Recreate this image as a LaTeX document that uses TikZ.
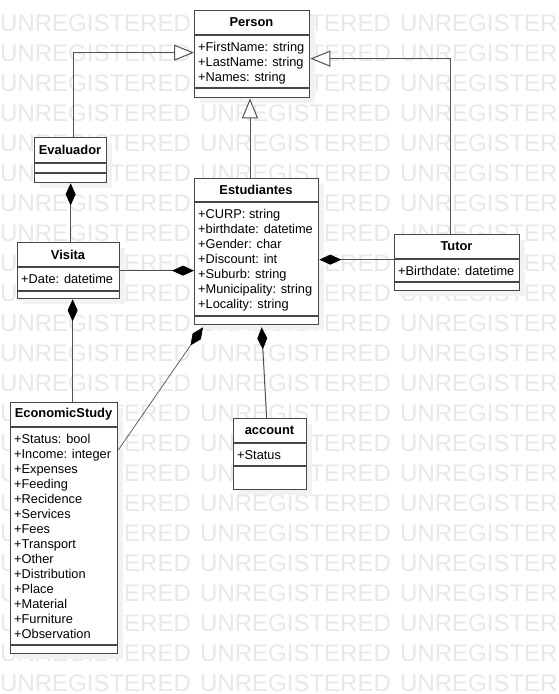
\documentclass[tikz,border=0pt]{standalone}
\usepackage{fontspec}
\setmainfont{Liberation Sans}
\usetikzlibrary{arrows.meta,calc}
\tikzset{
  wm/.style={inner sep=0pt, text=black!9, font=\fontsize{24}{24}\selectfont},
  clsbox/.style={draw=black!72, line width=1.3pt, fill=white, inner sep=0pt},
  clsline/.style={draw=black!72, line width=1.3pt},
  shadowc/.style={fill=black!5},
  titletxt/.style={inner sep=0pt, font=\fontsize{12.9}{15}\selectfont\bfseries},
  attrtxt/.style={inner sep=0pt, font=\fontsize{12.8}{15}\selectfont, anchor=base west},
  conn/.style={draw=black!68, line width=1pt},
  gen/.style={conn, -{Triangle[open, length=20pt, width=16pt, fill=white]}},
  comp/.style={conn, {Diamond[length=22pt, width=10pt, color=black, fill=black]}-},
}
% #1 name, #2 x, #3 y, #4 width, #5 sep1 offset, #6 sep2 offset, #7 height, #8 title, #9 attributes
\newcommand\umlclass[9]{%
  \fill[shadowc] (#2+6,#3+6) rectangle ++(#4,#7);
  \node[clsbox, minimum width=#4pt, minimum height=#7pt, anchor=north west] (#1) at (#2,#3) {};
  \draw[clsline] (#2,#3+#5) -- ++(#4,0);
  \draw[clsline] (#2,#3+#6) -- ++(#4,0);
  \node[titletxt] (#1-title) at (#2+#4/2,#3+#5/2) {#8};
  \foreach \t [count=\i] in {#9} {\node[attrtxt] (#1-a\i) at (#2+4,#3+#5+16+15*\i-15) {\t};}
}
\begin{document}
\begin{tikzpicture}[x=1pt,y=-1pt]
\useasboundingbox (0,0) rectangle (559,694);
\fill[white] (0,0) rectangle (559,694);
% watermark
\foreach \r in {0,...,22} {
  \foreach \c in {0,1,2} {
    \node[wm, anchor=base west] (wm-\r-\c) at (200*\c, 31+30*\r) {UNREGISTERED};
  }
}
% classes
\umlclass{person}{194}{10}{115}{25}{78}{87}{Person}{+FirstName: string,+LastName: string,+Names: string}
\umlclass{evaluador}{34}{137}{72}{26}{36}{45}{Evaluador}{}
\umlclass{estudiantes}{194}{178}{124}{24}{138}{146}{Estudiantes}{+CURP: string,+birthdate: datetime,+Gender: char,+Discount: int,+Suburb: string,+Municipality: string,+Locality: string}
\umlclass{visita}{17}{242}{102}{25}{49}{56}{Visita}{+Date: datetime}
\umlclass{tutor}{394}{234}{125}{25}{48}{56}{Tutor}{+Birthdate: datetime}
\umlclass{econ}{10}{402}{107}{25}{243}{251}{EconomicStudy}{+Status: bool,+Income: integer,+Expenses,+Feeding,+Recidence,+Services,+Fees,+Transport,+Other,+Distribution,+Place,+Material,+Furniture,+Observation}
\umlclass{account}{233}{418}{73}{25}{48}{71}{account}{+Status}
% generalizations
\coordinate (gx) at (250,0);
\draw[gen] ([xshift=3pt]evaluador.north) |- ([yshift=1.5pt]person.west);
\draw[gen] (estudiantes.north -| gx) -- (person.south -| gx);
\draw[gen] ([xshift=-6.5pt]tutor.north) |- ([yshift=-4.5pt]person.east);
% compositions
\draw[comp] (evaluador.south) -- (evaluador.south |- visita.north);
\draw[comp] (estudiantes.west |- visita.east) -- (visita.east);
\draw[comp] ([xshift=4pt]visita.south) -- ([xshift=4pt]visita.south |- econ.north);
\draw[comp, line width=0.7pt] ([xshift=9pt,yshift=-2pt]estudiantes.south west) -- ([yshift=-48pt]econ.north east);
\draw[comp] ([xshift=5pt,yshift=-2pt]estudiantes.south) -- ([xshift=-3.5pt]account.north);
\coordinate (tw) at ([yshift=3pt]tutor.west);
\draw[comp] (estudiantes.east |- tw) -- (tw);
\end{tikzpicture}
\end{document}
